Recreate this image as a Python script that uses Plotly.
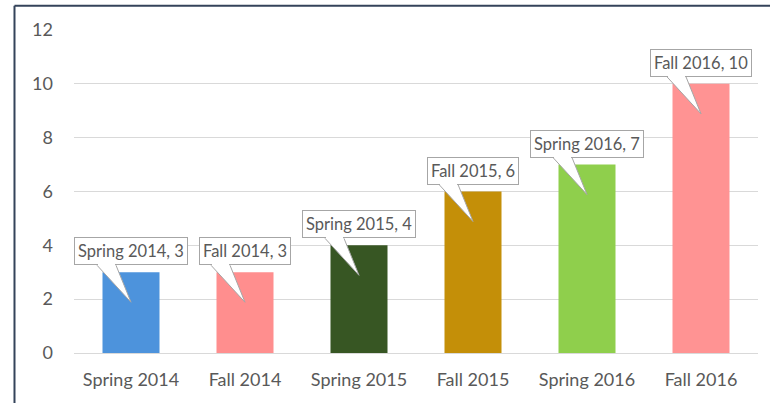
import plotly.graph_objects as go

categories = ["Spring 2014", "Fall 2014", "Spring 2015", "Fall 2015", "Spring 2016", "Fall 2016"]
values = [3, 3, 4, 6, 7, 10]
bar_colors = ["#4d93dc", "#ff8e8e", "#375623", "#c48f08", "#8fcf4c", "#ff9393"]
y_ticks = [0, 2, 4, 6, 8, 10, 12]

FONT = "Lato"
TXT = "#595959"
x_idx = list(range(len(categories)))

fig = go.Figure()
fig.add_trace(go.Bar(
    x=x_idx, y=values, width=0.5,
    marker=dict(color=bar_colors, line=dict(width=0)),
    hoverinfo="skip",
))

shapes = []
annotations = []
for i, (c, v) in enumerate(zip(categories, values)):
    # wedge pointer (pixel offsets relative to bar top)
    shapes.append(dict(
        type="path", xref="x", yref="y",
        xsizemode="pixel", ysizemode="pixel",
        xanchor=i, yanchor=v,
        path="M -34,7 L 0,-30 L -15,7",
        fillcolor="white",
        line=dict(color="#a6a6a6", width=1),
        layer="above",
    ))
    # label box
    annotations.append(dict(
        x=i, y=v, xref="x", yref="y",
        text=f"{c}, {v}", showarrow=False,
        xanchor="center", yanchor="bottom", yshift=7,
        font=dict(family=FONT, size=16.5, color=TXT),
        bgcolor="white", bordercolor="#a6a6a6", borderwidth=1, borderpad=3,
    ))
for i, v in enumerate(values):
    # hide box border where the wedge joins it
    annotations.append(dict(
        x=i, y=v, xref="x", yref="y",
        text=" ", showarrow=False,
        xanchor="center", yanchor="middle", xshift=-24.5, yshift=7.5,
        width=17, height=2, borderpad=0, borderwidth=0,
        bgcolor="white", font=dict(size=1),
    ))

# outer frame (left and top)
shapes.append(dict(type="line", xref="paper", yref="paper", x0=-0.087, x1=1.03, y0=1.075, y1=1.075,
                   line=dict(color="#34435a", width=2)))
shapes.append(dict(type="line", xref="paper", yref="paper", x0=-0.087, x1=-0.087, y0=-0.2, y1=1.075,
                   line=dict(color="#34435a", width=2)))

fig.update_layout(
    width=770, height=403,
    margin=dict(l=74, r=12, t=30, b=50),
    paper_bgcolor="white", plot_bgcolor="white",
    showlegend=False,
    shapes=shapes, annotations=annotations,
    xaxis=dict(
        range=[-0.5, len(categories) - 0.5],
        tickvals=x_idx, ticktext=categories,
        tickfont=dict(family=FONT, size=18, color=TXT),
        showgrid=False, zeroline=False,
        showline=True, linecolor="#d9d9d9", linewidth=1,
        ticks="", ticklabelstandoff=10,
    ),
    yaxis=dict(
        range=[0, 12], tickvals=y_ticks,
        tickfont=dict(family=FONT, size=18, color=TXT),
        showgrid=True, gridcolor="#d9d9d9", gridwidth=1,
        zeroline=False, showline=False, ticks="",
        ticklabelstandoff=20,
    ),
)

fig.write_html("out.html", config={"displayModeBar": False},
               post_script="document.body.style.margin='0';")
